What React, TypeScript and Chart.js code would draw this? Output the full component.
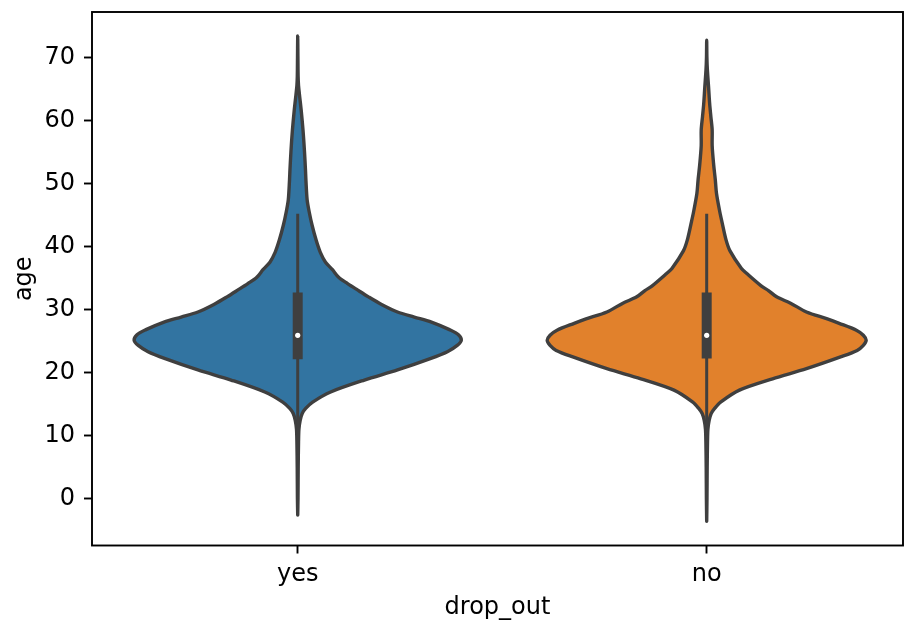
import React, { useEffect, useRef } from 'react';
import { Chart, registerables } from 'chart.js';

Chart.register(...registerables);

// ---- data ----
const categories = ['yes', 'no'];
const yTicks = [0, 10, 20, 30, 40, 50, 60, 70];

// violin profiles: age values and half-width (in category units)
const yesAge = [-2.6, 0, 5, 9, 11, 12.4, 13.5, 14.3, 15.3, 16.9, 18.8, 20.4, 22.2, 23.3, 24.3, 25.1, 26.0, 26.8, 28.0, 28.8, 29.6, 30.8, 32.0, 33.1, 34.1, 35.1, 36.3, 37.5, 39.1, 41.0, 43.4, 45.5, 47.4, 50.6, 52.1, 55.0, 58.4, 61.6, 64.0, 65.5, 67.0, 70.0, 73.4];
const yesHalfWidth = [0, 0.0007, 0.0012, 0.002, 0.003, 0.006, 0.011, 0.0195, 0.0366, 0.0805, 0.163, 0.244, 0.324, 0.366, 0.39, 0.4, 0.393, 0.371, 0.327, 0.285, 0.244, 0.205, 0.173, 0.146, 0.122, 0.1, 0.085, 0.068, 0.055, 0.045, 0.035, 0.028, 0.023, 0.02, 0.019, 0.0166, 0.013, 0.0085, 0.0044, 0.002, 0.001, 0.0005, 0];

const noAge = [-3.6, 0, 5, 9, 11, 12.4, 13.5, 14.3, 15.3, 17.2, 19.0, 20.6, 22.5, 23.5, 24.3, 25.1, 25.9, 26.7, 27.8, 28.5, 29.6, 31.0, 32.0, 33.0, 33.7, 35.7, 36.5, 39.3, 41.0, 43.7, 45.5, 48.4, 50.6, 53.0, 56.0, 58.5, 60.6, 62.6, 65.3, 68.0, 70.0, 72.7];
const noHalfWidth = [0, 0.0007, 0.0012, 0.002, 0.003, 0.006, 0.011, 0.0195, 0.034, 0.08, 0.161, 0.244, 0.329, 0.368, 0.383, 0.39, 0.383, 0.366, 0.324, 0.295, 0.244, 0.205, 0.171, 0.151, 0.134, 0.098, 0.085, 0.057, 0.0475, 0.038, 0.032, 0.024, 0.021, 0.017, 0.0134, 0.0134, 0.0102, 0.0073, 0.0046, 0.0017, 0.0005, 0];

const q1 = [22.1, 22.2];
const medians = [25.9, 25.9];
const q3 = [32.7, 32.7];
const whiskerLow = [7, 7];
const whiskerHigh = [45.2, 45.2];

const fillColors = ['#3274a1', '#e1812c'];
const GRAY = '#3f3f3f';
const FONT = "'DejaVu Sans', sans-serif";

function outline(center: number, ages: number[], hw: number[]) {
  const pts: { x: number; y: number }[] = [];
  for (let i = 0; i < ages.length; i++) pts.push({ x: center + hw[i], y: ages[i] });
  for (let i = ages.length - 2; i >= 0; i--) pts.push({ x: center - hw[i], y: ages[i] });
  return pts;
}

const spinePlugin = {
  id: 'spines',
  afterDraw(chart: any) {
    const { ctx, chartArea } = chart;
    ctx.save();
    ctx.strokeStyle = '#000';
    ctx.lineWidth = 1.9;
    ctx.strokeRect(chartArea.left, chartArea.top, chartArea.right - chartArea.left, chartArea.bottom - chartArea.top);
    ctx.restore();
  },
};

export default function App() {
  const ref = useRef<HTMLCanvasElement | null>(null);

  useEffect(() => {
    if (!ref.current) return;
    const ages = [yesAge, noAge];
    const widths = [yesHalfWidth, noHalfWidth];
    const datasets: any[] = [];
    categories.forEach((c, i) => {
      datasets.push({
        label: c,
        data: outline(i, ages[i], widths[i]),
        borderColor: GRAY,
        borderWidth: 3.4,
        backgroundColor: fillColors[i],
        fill: 'shape',
        pointRadius: 0,
        tension: 0.3,
        borderJoinStyle: 'round',
        borderCapStyle: 'round',
        order: 4,
      });
      datasets.push({
        label: c + ' whisker',
        data: [{ x: i, y: whiskerLow[i] }, { x: i, y: whiskerHigh[i] }],
        borderColor: GRAY,
        borderWidth: 3,
        pointRadius: 0,
        fill: false,
        borderCapStyle: 'butt',
        order: 3,
      });
      datasets.push({
        label: c + ' box',
        data: [{ x: i, y: q1[i] }, { x: i, y: q3[i] }],
        borderColor: GRAY,
        borderWidth: 10,
        pointRadius: 0,
        fill: false,
        borderCapStyle: 'butt',
        order: 2,
      });
      datasets.push({
        label: c + ' median',
        data: [{ x: i, y: medians[i] }],
        showLine: false,
        pointRadius: 2.6,
        pointBackgroundColor: '#ffffff',
        pointBorderWidth: 0,
        order: 1,
      });
    });

    const chart = new Chart(ref.current, {
      type: 'line',
      data: { datasets },
      plugins: [spinePlugin],
      options: {
        animation: false,
        responsive: false,
        events: [],
        layout: { padding: { top: 12, right: 1, left: 0, bottom: 0 } },
        plugins: { legend: { display: false }, tooltip: { enabled: false } },
        scales: {
          x: {
            type: 'linear',
            min: -0.503,
            max: 1.48,
            afterFit: (s: any) => { s.height = 77.5; s.paddingLeft = 0; s.paddingRight = 0; },
            afterBuildTicks: (s: any) => { s.ticks = categories.map((_, i) => ({ value: i })); },
            ticks: {
              callback: (v: any) => categories[Math.round(Number(v))],
              font: { family: FONT, size: 24, lineHeight: 1 },
              color: '#000',
              padding: 9.5,
              maxRotation: 0,
            },
            grid: { display: true, drawOnChartArea: false, drawTicks: true, tickLength: 8, tickWidth: 1.9, tickColor: '#000' },
            border: { display: false },
            title: { display: true, text: 'drop_out', color: '#000', font: { family: FONT, size: 24, lineHeight: 1 }, padding: { top: 0, bottom: 3 } },
          },
          y: {
            type: 'linear',
            min: -7.45,
            max: 77.19,
            afterFit: (s: any) => { s.width = 92; s.paddingTop = 0; s.paddingBottom = 0; },
            afterBuildTicks: (s: any) => { s.ticks = yTicks.map((v) => ({ value: v })); },
            ticks: {
              callback: (v: any) => String(v),
              font: { family: FONT, size: 24, lineHeight: 1 },
              color: '#000',
              padding: 9,
            },
            grid: { display: true, drawOnChartArea: false, drawTicks: true, tickLength: 8, tickWidth: 1.9, tickColor: '#000' },
            border: { display: false },
            title: { display: true, text: 'age', color: '#000', font: { family: FONT, size: 24, lineHeight: 1 }, padding: { top: 13, bottom: 0 } },
          },
        },
      } as any,
    });
    return () => chart.destroy();
  }, []);

  return (
    <div style={{ position: 'absolute', left: 0, top: 0, width: 907, height: 623, background: '#fff' }}>
      <canvas ref={ref} width={907} height={623} style={{ width: 907, height: 623, display: 'block' }} />
    </div>
  );
}
